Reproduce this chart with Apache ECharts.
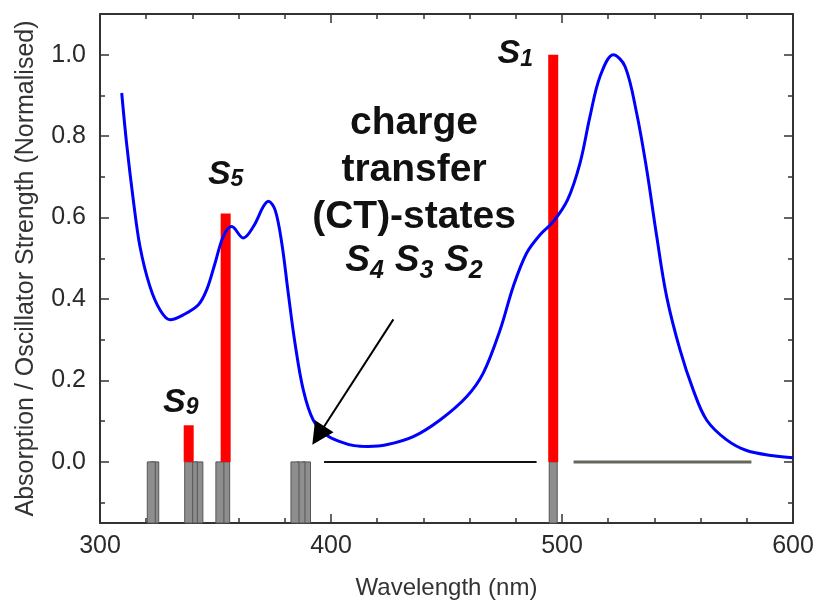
<!DOCTYPE html>
<html>
<head>
<meta charset="utf-8">
<script src="https://cdn.jsdelivr.net/npm/echarts@6/dist/echarts.min.js"></script>
<style>
  html, body { margin: 0; padding: 0; background: #fff; }
  #chart { width: 816px; height: 601px; }
</style>
</head>
<body>
<div id="chart"></div>
<script>
// Measured absorption spectrum (wavelength in nm, absorbance normalised to the peak)
const absWavelength = [309.4, 311.5, 314.4, 317.3, 321.6, 326.0, 330.3, 336.0, 342.6, 346.2,
  349.8, 353.4, 357.0, 362.0, 366.4, 370.7, 372.9, 375.8, 378.7, 381.5,
  384.4, 388.0, 392.3, 398.1, 403.9, 410.0, 416.0, 424.0, 435.6, 447.2,
  458.7, 465.9, 473.2, 478.9, 484.7, 490.5, 496.2, 502.5, 507.8, 512.1,
  516.5, 522.2, 527.3, 532.3, 536.7, 541.0, 545.3, 551.1, 556.8, 562.6,
  571.3, 579.9, 591.5, 600.0];
const absValue = [0.906, 0.783, 0.644, 0.529, 0.431, 0.373, 0.349, 0.361, 0.386, 0.423,
  0.488, 0.554, 0.578, 0.550, 0.578, 0.627, 0.640, 0.619, 0.537, 0.414,
  0.292, 0.177, 0.103, 0.066, 0.050, 0.040, 0.038, 0.042, 0.062, 0.103,
  0.160, 0.218, 0.324, 0.431, 0.513, 0.558, 0.590, 0.645, 0.734, 0.848,
  0.947, 1.000, 0.971, 0.857, 0.717, 0.554, 0.406, 0.275, 0.177, 0.103,
  0.054, 0.028, 0.015, 0.010];

// Computed singlet excitations: wavelength (nm) and normalised oscillator strength
const stateName = ['S1', 'S2', 'S3', 'S4', 'S5', 'S6', 'S7', 'S8', 'S9', 'S10', 'S11'];
const stateWavelength = [496.2, 389.4, 387.0, 384.4, 354.4, 351.9, 342.8, 340.4, 338.4, 323.7, 322.2];
const oscillatorStrength = [1.00, 0, 0, 0, 0.61, 0, 0, 0, 0.09, 0, 0];

// Zero-level guide segments (nm)
const zeroLineDark = [397, 489];
const zeroLineGrey = [505, 582];

// Arrow pointing at the charge-transfer states: [nm, value]
const arrowTail = [427, 0.35];
const arrowHead = [394.5, 0.065];

// Axis ranges and ticks
const xRange = [300, 600];
const yRange = [-0.15, 1.1];
const xMajor = [300, 400, 500, 600];
const xMinor = [320, 340, 360, 380, 420, 440, 460, 480, 520, 540, 560, 580];
const yMajor = [0, 0.2, 0.4, 0.6, 0.8, 1.0];
const yMinor = [-0.1, 0.1, 0.3, 0.5, 0.7, 0.9];

const FONT = '"Liberation Sans", Arial, Helvetica, sans-serif';
const AXIS_COLOR = '#333';

const chart = echarts.init(document.getElementById('chart'), null, { renderer: 'canvas' });

function tickAxis(kind, position, values, len, withLine, withLabel, extra) {
  const range = kind === 'x' ? xRange : yRange;
  const ax = {
    type: 'value',
    position: position,
    min: range[0],
    max: range[1],
    splitLine: { show: false },
    axisLine: { show: withLine, onZero: false, lineStyle: { color: AXIS_COLOR, width: 2 } },
    axisTick: { show: true, inside: true, length: len, customValues: values,
      lineStyle: { color: AXIS_COLOR, width: 1.5 } },
    axisLabel: { show: withLabel, customValues: values }
  };
  return Object.assign(ax, extra || {});
}

const strongStates = [];
stateName.forEach((n, i) => {
  if (oscillatorStrength[i] > 0) strongStates.push({ name: n, value: [stateWavelength[i], oscillatorStrength[i]] });
});

// label placement next to each labelled excitation (pixel offsets from the bar top)
const labelOffset = { S1: [-38, 16], S5: [0, -22], S9: [-8, -6] };

const sLabelRich = {
  s: { fontFamily: FONT, fontSize: 34, fontWeight: 'bold', fontStyle: 'italic', color: '#111',
       lineHeight: 34, verticalAlign: 'bottom' },
  sub: { fontFamily: FONT, fontSize: 23, fontWeight: 'bold', fontStyle: 'italic', color: '#111',
       lineHeight: 12, verticalAlign: 'bottom' }
};

const option = {
  animation: false,
  backgroundColor: '#fff',
  grid: { left: 100, right: 23, top: 14, bottom: 78, containLabel: false, outerBoundsMode: 'none' },
  xAxis: [
    tickAxis('x', 'bottom', xMajor, 9, true, true, {
      name: 'Wavelength (nm)', nameLocation: 'middle', nameGap: 53,
      nameTextStyle: { fontFamily: FONT, fontSize: 24, color: '#333' },
      axisLabel: { show: true, customValues: xMajor, fontFamily: FONT, fontSize: 25, color: '#2a2a2a', margin: 11 }
    }),
    tickAxis('x', 'bottom', xMinor, 5, false, false),
    tickAxis('x', 'top', xMajor, 9, true, false),
    tickAxis('x', 'top', xMinor, 5, false, false)
  ],
  yAxis: [
    tickAxis('y', 'left', yMajor, 9, true, true, {
      name: 'Absorption / Oscillator Strength (Normalised)', nameLocation: 'middle', nameGap: 61,
      nameTextStyle: { fontFamily: FONT, fontSize: 25, color: '#333' },
      axisLabel: { show: true, customValues: yMajor, fontFamily: FONT, fontSize: 25, color: '#2a2a2a', margin: 14,
        formatter: v => Number(v).toFixed(1) }
    }),
    tickAxis('y', 'left', yMinor, 5, false, false),
    tickAxis('y', 'right', yMajor, 9, true, false),
    tickAxis('y', 'right', yMinor, 5, false, false)
  ],
  series: [
    {
      // every computed state as a grey stick below the zero level
      name: 'states',
      type: 'custom',
      xAxisIndex: 0, yAxisIndex: 0,
      data: stateWavelength.map(w => [w, yRange[0]]),
      renderItem: function (params, api) {
        const x = api.value(0);
        const p0 = api.coord([x, 0]);
        const p1 = api.coord([x, api.value(1)]);
        const w = 8;
        return {
          type: 'rect',
          shape: { x: p0[0] - w / 2, y: p0[1], width: w, height: p1[1] - p0[1] },
          style: { fill: '#8e8e8e', stroke: '#555', lineWidth: 1 }
        };
      },
      z: 2
    },
    {
      name: 'oscillator strength',
      type: 'bar',
      xAxisIndex: 0, yAxisIndex: 0,
      barWidth: 10,
      itemStyle: { color: '#ff0000' },
      data: strongStates.map(d => ({
        name: d.name,
        value: d.value,
        label: {
          show: true,
          position: 'top',
          distance: 0,
          offset: labelOffset[d.name],
          formatter: '{s|S}{sub|' + d.name.slice(1) + '}',
          rich: sLabelRich
        }
      })),
      z: 3
    },
    {
      name: 'zero dark',
      type: 'line',
      xAxisIndex: 0, yAxisIndex: 0,
      data: zeroLineDark.map(x => [x, 0]),
      showSymbol: false,
      lineStyle: { color: '#111', width: 2 },
      z: 3
    },
    {
      name: 'zero grey',
      type: 'line',
      xAxisIndex: 0, yAxisIndex: 0,
      data: zeroLineGrey.map(x => [x, 0]),
      showSymbol: false,
      lineStyle: { color: '#66665a', width: 3 },
      z: 3
    },
    {
      name: 'absorption',
      type: 'line',
      xAxisIndex: 0, yAxisIndex: 0,
      data: absWavelength.map((x, i) => [x, absValue[i]]),
      showSymbol: false,
      smooth: 0.35,
      lineStyle: { color: '#0000ff', width: 3 },
      z: 5
    },
    {
      name: 'arrow',
      type: 'lines',
      coordinateSystem: 'cartesian2d',
      xAxisIndex: 0, yAxisIndex: 0,
      symbol: ['none', 'triangle'],
      symbolSize: [17, 22],
      lineStyle: { color: '#000', width: 2, opacity: 1 },
      data: [{ coords: [arrowTail, arrowHead] }],
      z: 6
    }
  ],
  graphic: [
    {
      type: 'text',
      x: 414,
      y: 96,
      z: 10,
      style: {
        text: '{b|charge}\n{b|transfer}\n{b|(CT)-states}\n{i|S}{sub|4}{b| }{i|S}{sub|3}{b| }{i|S}{sub|2}',
        align: 'center',
        verticalAlign: 'top',
        textAlign: 'center',
        textVerticalAlign: 'top',
        fill: '#111',
        font: 'bold 39px ' + FONT,
        rich: {
          b: { fontFamily: FONT, fontSize: 39, fontWeight: 'bold', fill: '#111', color: '#111', lineHeight: 47, verticalAlign: 'bottom' },
          i: { fontFamily: FONT, fontSize: 37, fontWeight: 'bold', fontStyle: 'italic', fill: '#111', color: '#111', lineHeight: 47, verticalAlign: 'middle' },
          sub: { fontFamily: FONT, fontSize: 25, fontWeight: 'bold', fontStyle: 'italic', fill: '#111', color: '#111', lineHeight: 26, verticalAlign: 'bottom' }
        }
      }
    }
  ]
};

chart.setOption(option);
</script>
</body>
</html>
